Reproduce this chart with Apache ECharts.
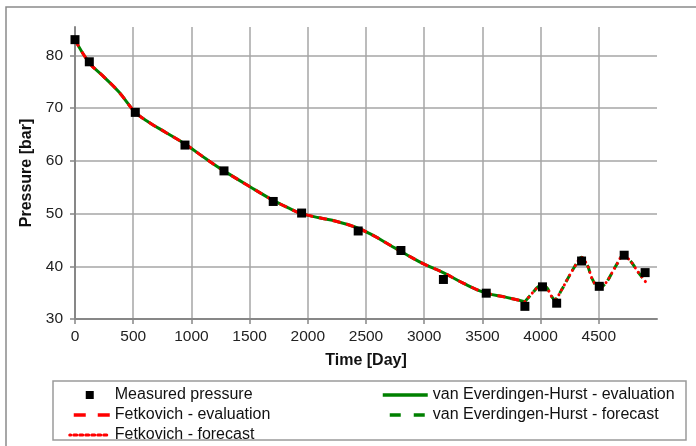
<!DOCTYPE html>
<html>
<head>
<meta charset="utf-8">
<script src="https://cdn.jsdelivr.net/npm/echarts@6/dist/echarts.min.js"></script>
<style>html,body{margin:0;padding:0;background:#fff}#c{width:696px;height:446px}</style>
</head>
<body>
<div id="c"></div>
<script>
// Measured pressure
const measuredTime = [0, 123, 518, 945, 1280, 1703, 1947, 2433, 2800, 3165, 3533, 3865, 4016, 4138, 4352, 4504, 4718, 4898];
const measuredPressure = [83.0, 78.8, 69.2, 63.0, 58.1, 52.3, 50.1, 46.7, 43.0, 37.5, 34.9, 32.4, 36.1, 33.0, 41.0, 36.2, 42.1, 38.8];

// Model evaluation curve (same for both models, overlapping)
const evalTime = [0, 123, 250, 380, 518, 644, 780, 945, 1131, 1280, 1503, 1703, 1850, 1947, 2100, 2250, 2400, 2550, 2700, 2850, 3000, 3163, 3335, 3521, 3707, 3865];
const evalPressure = [83.0, 78.6, 75.9, 73.0, 69.2, 67.2, 65.4, 63.2, 60.3, 58.1, 55.1, 52.5, 50.9, 50.0, 49.2, 48.5, 47.5, 46.0, 44.1, 42.2, 40.4, 38.8, 36.8, 35.0, 34.1, 33.3];

// Model forecast curve
const fcTime = [3865, 3936, 3979, 4022, 4059, 4085, 4122, 4180, 4217, 4257, 4294, 4351, 4408, 4437, 4503, 4566, 4609, 4658, 4709, 4772, 4838, 4904];
const fcPressure = [33.3, 35.1, 36.1, 36.4, 35.8, 34.6, 33.7, 35.5, 37.0, 38.6, 40.0, 41.7, 39.9, 37.9, 35.8, 37.0, 38.6, 40.5, 42.1, 41.0, 38.9, 37.0];

const zip = (a, b) => a.map((v, i) => [v, b[i]]);
const FONT = 'Liberation Sans';
const hideSym = {opacity: 0};

const chart = echarts.init(document.getElementById('c'), null, {renderer: 'canvas'});
chart.setOption({
  animation: false,
  textStyle: {fontFamily: FONT},
  grid: {left: 75, right: 39, top: 27, bottom: 127},
  graphic: [
    {type: 'rect', shape: {x: 6, y: 7, width: 700, height: 450}, style: {fill: 'none', stroke: '#8a8a8a', lineWidth: 1.5}, silent: true},
    {type: 'rect', shape: {x: 53, y: 381, width: 633, height: 59}, style: {fill: 'none', stroke: '#9a9a9a', lineWidth: 1.5}, silent: true}
  ],
  xAxis: {
    type: 'value', min: 0, max: 5000, interval: 500,
    name: 'Time [Day]', nameLocation: 'middle', nameGap: 34,
    nameTextStyle: {fontFamily: FONT, fontWeight: 'bold', fontSize: 16, color: '#111'},
    axisLine: {show: true, onZero: false, lineStyle: {color: '#878787', width: 2}},
    axisTick: {show: true, length: 5, lineStyle: {color: '#878787', width: 1.5}},
    axisLabel: {fontFamily: FONT, fontSize: 15.5, color: '#222', margin: 10, showMaxLabel: false, formatter: v => String(v)},
    splitLine: {show: true, showMinLine: false, showMaxLine: false, lineStyle: {color: '#a6a6a6', width: 1.5}}
  },
  yAxis: {
    type: 'value', min: 30, max: 85.4, interval: 10,
    name: 'Pressure [bar]', nameLocation: 'middle', nameGap: 40,
    nameTextStyle: {fontFamily: FONT, fontWeight: 'bold', fontSize: 16, color: '#111'},
    axisLine: {show: true, onZero: false, lineStyle: {color: '#878787', width: 2}},
    axisTick: {show: true, length: 5, lineStyle: {color: '#878787', width: 1.5}},
    axisLabel: {fontFamily: FONT, fontSize: 15.5, color: '#222', margin: 12, showMaxLabel: false, formatter: v => String(v)},
    splitLine: {show: true, showMinLine: false, showMaxLine: false, lineStyle: {color: '#a6a6a6', width: 1.5}}
  },
  legend: [
    {
      orient: 'vertical', left: 63, top: 382, height: 80, itemWidth: 40, itemHeight: 10, itemGap: 4,
      textStyle: {fontFamily: FONT, fontSize: 16, color: '#111'},
      lineStyle: {width: 3.5},
      data: [
        {name: 'Measured pressure'},
        {name: 'Fetkovich - evaluation', itemStyle: hideSym, lineStyle: {type: [12, 12], dashOffset: -4, width: 3.5}},
        {name: 'Fetkovich - forecast', itemStyle: hideSym, lineStyle: {type: [3, 3], width: 3}}
      ]
    },
    {
      orient: 'vertical', left: 376, top: 382, height: 80, itemWidth: 45, itemHeight: 10, itemGap: 4,
      textStyle: {fontFamily: FONT, fontSize: 16, color: '#111'},
      lineStyle: {width: 3.5},
      data: [
        {name: 'van Everdingen-Hurst - evaluation', itemStyle: hideSym},
        {name: 'van Everdingen-Hurst - forecast', itemStyle: hideSym, lineStyle: {type: [11, 13], dashOffset: -7, width: 3.5}}
      ]
    }
  ],
  series: [
    {
      name: 'van Everdingen-Hurst - evaluation', type: 'line', data: zip(evalTime, evalPressure),
      smooth: 0.4, symbol: 'none', z: 2,
      lineStyle: {color: '#008000', width: 3}, itemStyle: {color: '#008000'}
    },
    {
      name: 'Fetkovich - evaluation', type: 'line', data: zip(evalTime, evalPressure),
      smooth: 0.4, symbol: 'none', z: 3,
      lineStyle: {color: '#ff0000', width: 3, type: [8, 6]}, itemStyle: {color: '#ff0000'}
    },
    {
      name: 'van Everdingen-Hurst - forecast', type: 'line', data: zip(fcTime, fcPressure),
      smooth: 0.3, symbol: 'none', z: 2,
      lineStyle: {color: '#008000', width: 3, type: [8, 5]}, itemStyle: {color: '#008000'}
    },
    {
      name: 'Fetkovich - forecast', type: 'line', data: zip(fcTime, fcPressure),
      smooth: 0.3, symbol: 'none', z: 3,
      lineStyle: {color: '#ff0000', width: 3, type: [0.1, 5.5], cap: 'round'}, itemStyle: {color: '#ff0000'}
    },
    {
      name: 'Measured pressure', type: 'line', data: zip(measuredTime, measuredPressure),
      symbol: 'rect', symbolSize: 9, showSymbol: true, z: 5,
      lineStyle: {width: 0, opacity: 0}, itemStyle: {color: '#000'}
    }
  ]
});
</script>
</body>
</html>
